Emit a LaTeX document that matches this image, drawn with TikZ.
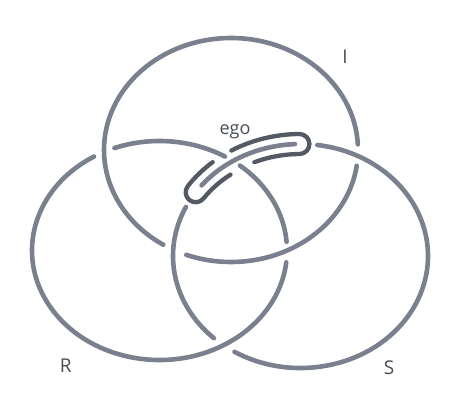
\documentclass[tikz,border=0pt]{standalone}
\usepackage{fontspec}
\setmainfont{Open Sans}
\usetikzlibrary{calc}
\definecolor{ringc}{RGB}{122,128,142}
\definecolor{egoc}{RGB}{84,89,99}
\definecolor{txtc}{RGB}{72,77,86}
\newcommand\ringarc[5]{\draw[ring] ($(#1)+(#2:#4pt and #5pt)$) arc[start angle=#2, end angle=#3, x radius=#4pt, y radius=#5pt];}
\begin{document}
\begin{tikzpicture}[x=1pt,y=1pt,
  ring/.style={draw=ringc,line width=4.6pt,line cap=round},
  egoline/.style={draw=egoc,line width=4.3pt,line cap=round,line join=round},
  lbl/.style={text=txtc,font=\fontsize{19}{22}\selectfont,inner sep=0pt,anchor=base},
  egolbl/.style={text=txtc,font=\fontsize{18}{21}\selectfont,inner sep=0pt,anchor=base}]
\fill[white] (0,0) rectangle (455,402);
\useasboundingbox (0,0) rectangle (455,402);
\coordinate (Ic) at (231,252);
\coordinate (Rc) at (159.5,151.5);
\coordinate (Sc) at (300.5,146);
% ring I
\ringarc{Ic}{2.9}{237.8}{127}{112}
\ringarc{Ic}{249.4}{351.9}{127}{112}
% ring R
\ringarc{Rc}{4.6}{50.9}{127.5}{109.5}
\ringarc{Rc}{59.1}{110.7}{127.5}{109.5}
\ringarc{Rc}{120.9}{353.8}{127.5}{109.5}
% ring S
\ringarc{Sc}{92.5}{140.9}{127.5}{112}
\ringarc{Sc}{154}{227.2}{127.5}{112}
\ringarc{Sc}{238.8}{442.4}{127.5}{112}
% ego loop
\draw[egoline] ($(Sc)+(129.7:137.5pt and 122pt)$)
  arc[start angle=129.7,end angle=145,x radius=137.5pt,y radius=122pt]
  arc[start angle=141.4,end angle=321.4,radius=10pt]
  arc[start angle=145,end angle=126.1,x radius=117.5pt,y radius=102pt];
\draw[egoline] ($(Sc)+(113.1:117.5pt and 102pt)$)
  arc[start angle=113.1,end angle=90.5,x radius=117.5pt,y radius=102pt]
  arc[start angle=270.44,end angle=450.44,radius=10pt]
  arc[start angle=90.5,end angle=120.2,x radius=137.5pt,y radius=122pt];
% labels
\node[lbl] (lI) at (345,338.7) {I};
\node[lbl] (lR) at (65.8,29.7) {R};
\node[lbl] (lS) at (389,28) {S};
\node[egolbl] (lego) at (235,267) {ego};
\end{tikzpicture}
\end{document}
